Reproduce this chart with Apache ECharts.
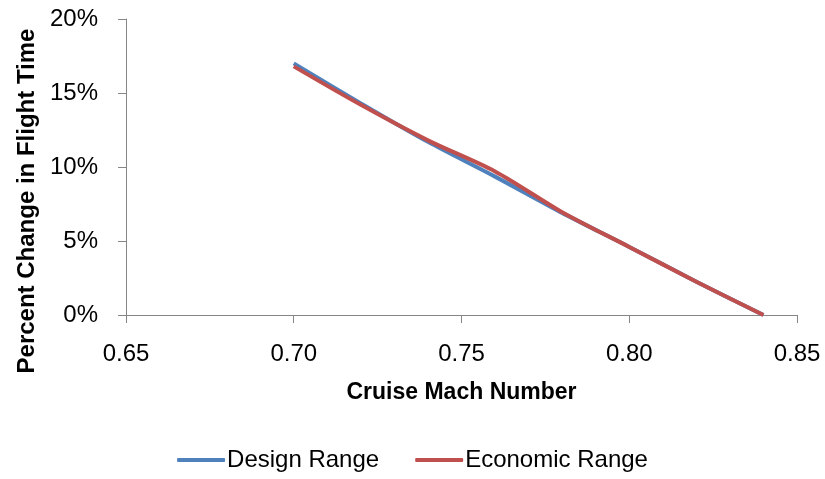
<!DOCTYPE html>
<html>
<head>
<meta charset="utf-8">
<script src="https://cdn.jsdelivr.net/npm/echarts@6/dist/echarts.min.js"></script>
<style>
  html, body { margin: 0; padding: 0; background: #fff; }
  #chart { width: 825px; height: 479px; }
</style>
</head>
<body>
<div id="chart"></div>
<script>
// cruise mach vs percent change in flight time
const machNumbers = [0.70, 0.72, 0.74, 0.76, 0.78, 0.80, 0.82, 0.84];
const designRange = [17.0, 14.3, 11.7, 9.35, 6.9, 4.6, 2.25, 0];
const economicRange = [16.8, 14.2, 11.8, 9.7, 6.95, 4.6, 2.25, 0];
const seriesNames = ['Design Range', 'Economic Range'];
const colors = ['#4F81BD', '#C0504D'];

const font = 'Liberation Sans';
const chart = echarts.init(document.getElementById('chart'));

function pairs(ys) {
  return machNumbers.map((x, i) => [x, ys[i]]);
}

chart.setOption({
  animation: false,
  color: colors,
  textStyle: { fontFamily: font, color: '#000' },
  grid: { left: 126, right: 28, top: 19, bottom: 164 },
  legend: {
    bottom: 2,
    left: 'center',
    icon: 'roundRect',
    itemWidth: 48,
    itemHeight: 4,
    itemGap: 36,
    textStyle: { fontSize: 24, fontFamily: font, color: '#000', padding: [0, 0, 0, -3] },
    data: seriesNames
  },
  xAxis: {
    type: 'value',
    min: 0.65,
    max: 0.85,
    interval: 0.05,
    name: 'Cruise Mach Number',
    nameLocation: 'middle',
    nameGap: 66,
    nameTextStyle: { fontSize: 23, fontWeight: 'bold', fontFamily: font, color: '#000' },
    axisLine: { lineStyle: { color: '#868686', width: 1 } },
    axisTick: { show: true, length: 8, lineStyle: { color: '#868686' } },
    axisLabel: { fontSize: 24, color: '#000', margin: 27, formatter: v => v.toFixed(2) },
    splitLine: { show: false }
  },
  yAxis: {
    type: 'value',
    min: 0,
    max: 20,
    interval: 5,
    axisLine: { show: true, lineStyle: { color: '#868686', width: 1 } },
    axisTick: { show: true, length: 8, lineStyle: { color: '#868686' } },
    axisLabel: { fontSize: 24, color: '#000', margin: 28, formatter: '{value}%' },
    splitLine: { show: false }
  },
  graphic: [{
    type: 'text',
    x: 27,
    y: 201,
    rotation: Math.PI / 2,
    style: {
      text: 'Percent Change in Flight Time',
      font: 'bold 24px "Liberation Sans"',
      fill: '#000',
      align: 'center',
      verticalAlign: 'middle'
    }
  }],
  series: [
    {
      name: seriesNames[0],
      type: 'line',
      smooth: 0.3,
      showSymbol: false,
      symbol: 'none',
      lineStyle: { width: 4, color: colors[0] },
      data: pairs(designRange)
    },
    {
      name: seriesNames[1],
      type: 'line',
      smooth: 0.3,
      showSymbol: false,
      symbol: 'none',
      lineStyle: { width: 4, color: colors[1] },
      data: pairs(economicRange)
    }
  ]
});
</script>
</body>
</html>
